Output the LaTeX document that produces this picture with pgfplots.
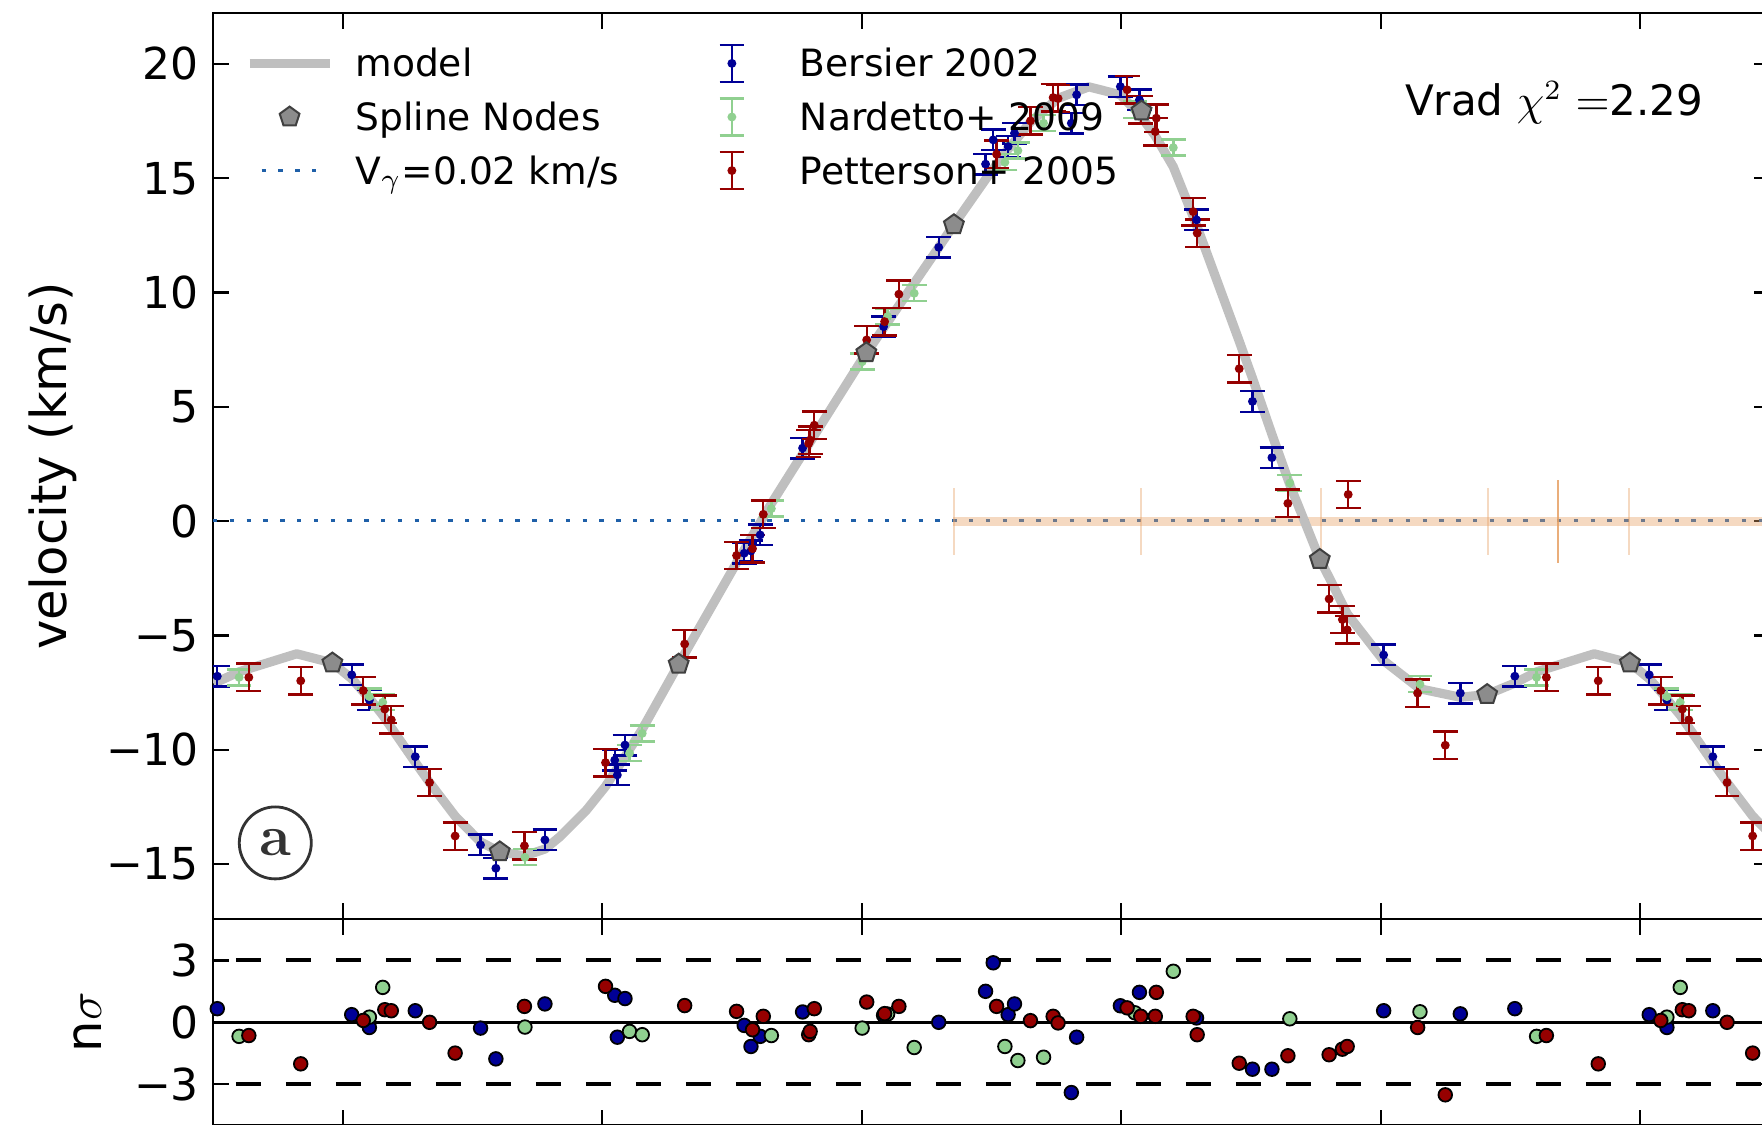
\documentclass[border=0pt]{standalone}
\usepackage[no-math]{fontspec}
\setmainfont{DejaVu Sans}
\usepackage{pgfplots}
\usepackage{pgfplotstable}
\pgfplotsset{compat=1.18}
\usetikzlibrary{plotmarks}

\definecolor{bl}{RGB}{0,0,150}
\definecolor{gr}{RGB}{144,208,144}
\definecolor{rd}{RGB}{150,0,0}
\definecolor{modelgray}{RGB}{191,191,191}
\definecolor{nodegray}{RGB}{140,140,140}
\definecolor{vgam}{RGB}{31,96,168}
\definecolor{band}{RGB}{230,160,100}

\pgfplotstableread{
x y e r
0.0069 -6.72 0.45 0.37
0.0205 -7.82 0.45 -0.25
0.0559 -10.30 0.45 0.56
0.1062 -14.16 0.45 -0.28
0.1180 -15.18 0.45 -1.77
0.1558 -13.94 0.45 0.89
0.2096 -10.45 0.45 1.31
0.2116 -11.10 0.45 -0.72
0.2175 -9.79 0.45 1.15
0.3094 -1.40 0.45 -0.15
0.3146 -1.30 0.45 -1.17
0.3217 -0.60 0.45 -0.68
0.3544 3.20 0.45 0.50
0.4168 8.51 0.45 0.34
0.4593 11.98 0.45 0.00
0.4954 15.62 0.45 1.50
0.5013 16.68 0.45 2.88
0.5128 16.39 0.45 0.37
0.5177 16.97 0.45 0.89
0.5615 17.41 0.45 -3.40
0.5656 18.65 0.45 -0.72
0.5993 19.01 0.45 0.80
0.6140 18.43 0.45 1.45
0.6580 13.18 0.45 0.21
0.7011 5.24 0.45 -2.27
0.7161 2.78 0.45 -2.27
0.8022 -5.85 0.45 0.56
0.8613 -7.52 0.45 0.41
0.9033 -6.78 0.45 0.66
}\bersier

\pgfplotstableread{
x y e r
0.0205 -7.67 0.35 0.25
0.0308 -7.92 0.35 1.69
0.1404 -14.70 0.35 -0.23
0.2210 -10.15 0.35 -0.44
0.2308 -9.28 0.35 -0.60
0.3303 0.55 0.35 -0.64
0.4003 6.98 0.35 -0.28
0.4199 8.95 0.35 0.40
0.4404 9.97 0.35 -1.22
0.5103 15.70 0.35 -1.17
0.5203 16.21 0.35 -1.85
0.5401 17.41 0.35 -1.69
0.6105 18.00 0.35 0.46
0.6401 16.34 0.35 2.47
0.7299 1.67 0.35 0.17
0.8302 -7.13 0.35 0.51
0.9201 -6.83 0.35 -0.68
}\nardetto

\pgfplotstableread{
x y e r
0.0158 -7.41 0.6 0.09
0.0324 -8.22 0.6 0.61
0.0374 -8.69 0.6 0.56
0.0669 -11.43 0.6 0.00
0.0866 -13.77 0.6 -1.49
0.1400 -14.20 0.6 0.77
0.2025 -10.56 0.6 1.74
0.2635 -5.37 0.6 0.81
0.3035 -1.50 0.6 0.53
0.3158 -1.20 0.6 -0.36
0.3241 0.30 0.6 0.29
0.3591 3.40 0.6 -0.60
0.3602 3.55 0.6 -0.44
0.3634 4.20 0.6 0.66
0.4038 7.93 0.6 0.98
0.4176 8.73 0.6 0.42
0.4286 9.93 0.6 0.77
0.5039 16.05 0.6 0.77
0.5300 17.51 0.6 0.08
0.5475 18.53 0.6 0.29
0.5513 18.49 0.6 -0.03
0.6045 18.87 0.6 0.70
0.6150 17.99 0.6 0.29
0.6262 17.04 0.6 0.29
0.6270 17.63 0.6 1.45
0.6554 13.54 0.6 0.29
0.6585 12.60 0.6 -0.60
0.6909 6.67 0.6 -1.98
0.7284 0.78 0.6 -1.62
0.7602 -3.40 0.6 -1.57
0.7704 -4.30 0.6 -1.30
0.7741 -4.75 0.6 -1.17
0.7749 1.17 0.6 nan
0.8284 -7.52 0.6 -0.25
0.8497 -9.80 0.6 -3.51
0.9276 -6.83 0.6 -0.64
0.9676 -6.98 0.6 -2.01
}\petterson

\pgfplotstableread{
x y
0.1210 -14.46
0.2589 -6.25
0.4035 7.37
0.4710 12.97
0.6156 17.94
0.7530 -1.67
0.8820 -7.58
0.9920 -6.20
}\nodes

\pgfplotsset{
  errstyle/.style={only marks, mark=*, mark size=0.9pt, color=#1,
    error bars/.cd, y dir=both, y explicit,
    error bar style={line width=0.6pt, color=#1},
    error mark=-,
    error mark options={rotate=90, mark size=3.1pt, line width=0.6pt, color=#1}},
  resstyle/.style={only marks, mark=*, mark size=1.7pt,
    mark options={fill=#1, draw=black, line width=0.45pt}},
  nodestyle/.style={only marks, mark=pentagon*, mark size=2.6pt,
    mark options={fill=nodegray, draw=black!75, line width=0.5pt}},
}

\begin{document}
\begin{tikzpicture}
\begin{axis}[
  name=top, at={(0pt,0pt)}, anchor=south west,
  scale only axis, width=389.25pt, height=226.5pt,
  xmin=-0.1, xmax=1.1, ymin=-17.40, ymax=22.23,
  xtick={0,0.2,0.4,0.6,0.8,1.0}, xticklabels={},
  ytick={-15,-10,-5,0,5,10,15,20},
  yticklabels={−15,−10,−5,0,5,10,15,20},
  tick align=inside, major tick length=4pt,
  every tick/.style={black, line width=0.6pt},
  axis line style={line width=0.7pt},
  tick label style={font=\fontsize{11}{13}\selectfont},
  ylabel={velocity (km/s)},
  ylabel style={font=\fontsize{12.4}{14}\selectfont, at={(axis description cs:-0.1028,0.5)}, anchor=center},
  legend columns=2,
  legend cell align=left,
  legend style={draw=none, fill=none, inner sep=0pt, outer sep=0pt,
    at={(axis description cs:0.02055,0.966)}, anchor=north west,
    font=\fontsize{9.4}{11}\selectfont,
    nodes={inner sep=0pt, text height=6.8pt, text depth=0pt},
    row sep=3.6pt,
    /tikz/every odd column/.append style={column sep=5.3pt},
    /tikz/every even column/.append style={column sep=18.1pt}},
]
% legend entries (row-wise)
\addlegendimage{legend image code/.code={\path[draw=none,fill=none] (0pt,-4.6pt) rectangle (20pt,4.6pt); \draw[line width=2.3pt, modelgray] (0pt,0pt) -- (20pt,0pt);}}
\addlegendentry{model}
\addlegendimage{legend image code/.code={\path[draw=none,fill=none] (-10pt,-4.6pt) rectangle (11.7pt,4.6pt); \draw[bl, line width=0.6pt] (0pt,-4.6pt) -- (0pt,4.6pt) (-3.1pt,-4.6pt) -- (3.1pt,-4.6pt) (-3.1pt,4.6pt) -- (3.1pt,4.6pt); \fill[bl] (0pt,0pt) circle (0.9pt);}}
\addlegendentry{Bersier 2002}
\addlegendimage{legend image code/.code={\path[draw=none,fill=none] (0pt,-4.6pt) rectangle (20pt,4.6pt); \draw[mark=pentagon*, mark size=2.6pt, mark options={fill=nodegray, draw=black!75, line width=0.5pt}] plot coordinates {(10pt,0pt)};}}
\addlegendentry{Spline Nodes}
\addlegendimage{legend image code/.code={\path[draw=none,fill=none] (-10pt,-4.6pt) rectangle (11.7pt,4.6pt); \draw[gr, line width=0.6pt] (0pt,-4.6pt) -- (0pt,4.6pt) (-3.1pt,-4.6pt) -- (3.1pt,-4.6pt) (-3.1pt,4.6pt) -- (3.1pt,4.6pt); \fill[gr] (0pt,0pt) circle (0.9pt);}}
\addlegendentry{Nardetto+ 2009}
\addlegendimage{legend image code/.code={\path[draw=none,fill=none] (0pt,-4.6pt) rectangle (20pt,4.6pt); \draw[vgam, line width=0.8pt, dash pattern=on 1.1pt off 3.1pt] (3pt,0pt) -- (17pt,0pt);}}
\addlegendentry{V$_\gamma$=0.02 km/s}
\addlegendimage{legend image code/.code={\path[draw=none,fill=none] (-10pt,-4.6pt) rectangle (11.7pt,4.6pt); \draw[rd, line width=0.6pt] (0pt,-4.6pt) -- (0pt,4.6pt) (-3.1pt,-4.6pt) -- (3.1pt,-4.6pt) (-3.1pt,4.6pt) -- (3.1pt,4.6pt); \fill[rd] (0pt,0pt) circle (0.9pt);}}
\addlegendentry{Petterson+ 2005}

% V gamma line
\addplot[forget plot, vgam, line width=0.8pt, dash pattern=on 1.1pt off 3.1pt] coordinates {(-0.1,0.02) (1.1,0.02)};
% band and markers
\addplot[forget plot, draw=none, fill=band, fill opacity=0.4] coordinates {(0.4701,-0.19) (1.1,-0.19) (1.1,0.19) (0.4701,0.19)} -- cycle;
\addplot[forget plot, band, opacity=0.4, line width=0.5pt] coordinates {(0.4710,-1.46) (0.4710,1.46)};
\addplot[forget plot, band, opacity=0.4, line width=0.5pt] coordinates {(0.6153,-1.46) (0.6153,1.46)};
\addplot[forget plot, band, opacity=0.4, line width=0.5pt] coordinates {(0.7538,-1.46) (0.7538,1.46)};
\addplot[forget plot, band, opacity=0.4, line width=0.5pt] coordinates {(0.8823,-1.46) (0.8823,1.46)};
\addplot[forget plot, band, opacity=0.4, line width=0.5pt] coordinates {(0.9913,-1.46) (0.9913,1.46)};
\addplot[forget plot, band, opacity=0.85, line width=0.6pt] coordinates {(0.9368,-1.82) (0.9368,1.82)};

% model
\addplot[forget plot, modelgray, line width=2.3pt, line join=round] coordinates {
(-0.0996,-7.10) (-0.0799,-6.59) (-0.0724,-6.45) (-0.0355,-5.80) (-0.0080,-6.20)
(0.0069,-6.89) (0.0158,-7.46) (0.0205,-7.74) (0.0310,-8.50) (0.0374,-9.03)
(0.0559,-10.55) (0.0669,-11.43) (0.0866,-12.90) (0.1062,-14.03) (0.1210,-14.46)
(0.1400,-14.64) (0.1558,-14.34) (0.1674,-13.80) (0.1879,-12.63) (0.2025,-11.60)
(0.2175,-10.30) (0.2308,-9.10) (0.2589,-6.25) (0.3035,-1.82) (0.3303,0.77)
(0.4003,7.08) (0.4593,11.98) (0.4710,12.97) (0.4954,14.95) (0.5103,16.10)
(0.5300,17.46) (0.5513,18.50) (0.5750,19.00) (0.5993,18.65) (0.6140,17.80)
(0.6262,16.85) (0.6401,15.50) (0.6570,13.10) (0.6910,7.86) (0.7011,6.26)
(0.7161,3.80) (0.7299,1.60) (0.7530,-1.67) (0.7602,-2.46) (0.7741,-4.05)
(0.8022,-6.10) (0.8300,-7.33) (0.8613,-7.70) (0.8820,-7.58) (0.9033,-7.08)
(0.9201,-6.59) (0.9276,-6.45) (0.9645,-5.80) (0.9920,-6.20) (1.0069,-6.89)
(1.0158,-7.46) (1.0310,-8.50) (1.0559,-10.55) (1.0669,-11.43) (1.0866,-12.90)
(1.1062,-14.03)};

% data
\addplot[forget plot, errstyle=bl] table[x=x, y=y, y error=e] {\bersier};
\addplot[forget plot, errstyle=bl] table[x expr=\thisrow{x}-1, y=y, y error=e] {\bersier};
\addplot[forget plot, errstyle=bl] table[x expr=\thisrow{x}+1, y=y, y error=e] {\bersier};
\addplot[forget plot, errstyle=gr] table[x=x, y=y, y error=e] {\nardetto};
\addplot[forget plot, errstyle=gr] table[x expr=\thisrow{x}-1, y=y, y error=e] {\nardetto};
\addplot[forget plot, errstyle=gr] table[x expr=\thisrow{x}+1, y=y, y error=e] {\nardetto};
\addplot[forget plot, errstyle=rd] table[x=x, y=y, y error=e] {\petterson};
\addplot[forget plot, errstyle=rd] table[x expr=\thisrow{x}-1, y=y, y error=e] {\petterson};
\addplot[forget plot, errstyle=rd] table[x expr=\thisrow{x}+1, y=y, y error=e] {\petterson};

% nodes
\addplot[forget plot, nodestyle] table[x=x, y=y] {\nodes};
\addplot[forget plot, nodestyle] table[x expr=\thisrow{x}-1, y=y] {\nodes};

\node[anchor=base west, font=\fontsize{10.5}{12}\selectfont] at (axis description cs:0.7566,0.8865) {Vrad $\chi^2$ $=$2.29};
\node[circle, draw=black!80, line width=0.7pt, minimum size=18pt, inner sep=0pt, text=black!80, font=\fontsize{14}{14}\selectfont] at (axis description cs:0.04,0.084) {$\mathbf{a}$};
\end{axis}

\begin{axis}[
  name=bot, at={(0pt,0pt)}, anchor=north west,
  scale only axis, width=389.25pt, height=51.65pt,
  xmin=-0.1, xmax=1.1, ymin=-5, ymax=5,
  xtick={0,0.2,0.4,0.6,0.8,1.0}, xticklabels={},
  ytick={-3,0,3}, yticklabels={−3,0,3},
  tick align=inside, major tick length=4pt,
  every tick/.style={black, line width=0.6pt},
  axis line style={line width=0.7pt},
  tick label style={font=\fontsize{11}{13}\selectfont},
  ylabel={n$\sigma$},
  ylabel style={font=\fontsize{12.4}{14}\selectfont, at={(axis description cs:-0.0807,0.5)}, anchor=center},
]
\addplot[black, line width=1pt, dash pattern=on 6.4pt off 6.1pt, dash phase=6.8pt] coordinates {(-0.1,3) (1.1,3)};
\addplot[black, line width=1pt, dash pattern=on 6.4pt off 6.1pt, dash phase=6.8pt] coordinates {(-0.1,-3) (1.1,-3)};
\addplot[black, line width=0.85pt] coordinates {(-0.1,0) (1.1,0)};
\addplot[resstyle=bl] table[x=x, y=r] {\bersier};
\addplot[resstyle=bl] table[x expr=\thisrow{x}-1, y=r] {\bersier};
\addplot[resstyle=bl] table[x expr=\thisrow{x}+1, y=r] {\bersier};
\addplot[resstyle=gr] table[x=x, y=r] {\nardetto};
\addplot[resstyle=gr] table[x expr=\thisrow{x}-1, y=r] {\nardetto};
\addplot[resstyle=gr] table[x expr=\thisrow{x}+1, y=r] {\nardetto};
\addplot[resstyle=rd] table[x=x, y=r] {\petterson};
\addplot[resstyle=rd] table[x expr=\thisrow{x}-1, y=r] {\petterson};
\addplot[resstyle=rd] table[x expr=\thisrow{x}+1, y=r] {\petterson};
\end{axis}
\pgfresetboundingbox
\path[use as bounding box] (-53.25pt,-51.25pt) rectangle (387.25pt,229.75pt);
\end{tikzpicture}
\end{document}
